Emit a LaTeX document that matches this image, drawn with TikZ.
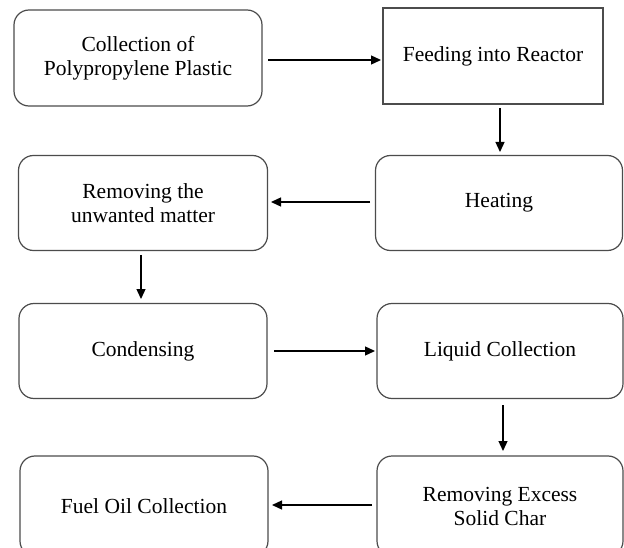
\documentclass[tikz,border=0pt]{standalone}
\usepackage{fontspec}
\setmainfont{Liberation Serif}
\usetikzlibrary{arrows.meta}
\begin{document}
\begin{tikzpicture}[x=1pt,y=-1pt,
  box/.style={draw=black!70, line width=1.2pt, rounded corners=15pt, align=center,
    font=\fontsize{21.5}{24}\selectfont, inner sep=0pt},
  sqbox/.style={draw=black!70, line width=1.2pt, align=center,
    font=\fontsize{21.5}{24}\selectfont, inner sep=0pt},
  flow/.style={draw=black, line width=1.3pt, -{Triangle[length=10pt,width=9pt]}}]
\clip (0,0) rectangle (624,548);
\fill[white] (0,0) rectangle (624,548);
\node[box, minimum width=248pt, minimum height=96pt] (b1) at (138,58) {Collection of\\Polypropylene Plastic};
\node[sqbox, minimum width=220pt, minimum height=96pt] (b2) at (493,56) {Feeding into Reactor};
\node[box, minimum width=247pt, minimum height=95pt] (b3) at (499,203) {Heating};
\node[box, minimum width=249pt, minimum height=95pt] (b4) at (143,203) {Removing the\\unwanted matter};
\node[box, minimum width=248pt, minimum height=95pt] (b5) at (143,351) {Condensing};
\node[box, minimum width=246pt, minimum height=95pt] (b6) at (500,351) {Liquid Collection};
\node[box, minimum width=246pt, minimum height=100pt] (b7) at (500,506) {Removing Excess\\Solid Char};
\node[box, minimum width=248pt, minimum height=100pt] (b8) at (144,506) {Fuel Oil Collection};
\coordinate (a1s) at (268,60); \coordinate (a1e) at (381,60);
\draw[flow] (a1s) -- (a1e);
\coordinate (a2s) at (500,108); \coordinate (a2e) at (500,152);
\draw[flow] (a2s) -- (a2e);
\coordinate (a3s) at (370,202); \coordinate (a3e) at (271,202);
\draw[flow] (a3s) -- (a3e);
\coordinate (a4s) at (141,255); \coordinate (a4e) at (141,299);
\draw[flow] (a4s) -- (a4e);
\coordinate (a5s) at (274,351); \coordinate (a5e) at (375,351);
\draw[flow] (a5s) -- (a5e);
\coordinate (a6s) at (503,405); \coordinate (a6e) at (503,451);
\draw[flow] (a6s) -- (a6e);
\coordinate (a7s) at (372,505); \coordinate (a7e) at (272,505);
\draw[flow] (a7s) -- (a7e);
\end{tikzpicture}
\end{document}
